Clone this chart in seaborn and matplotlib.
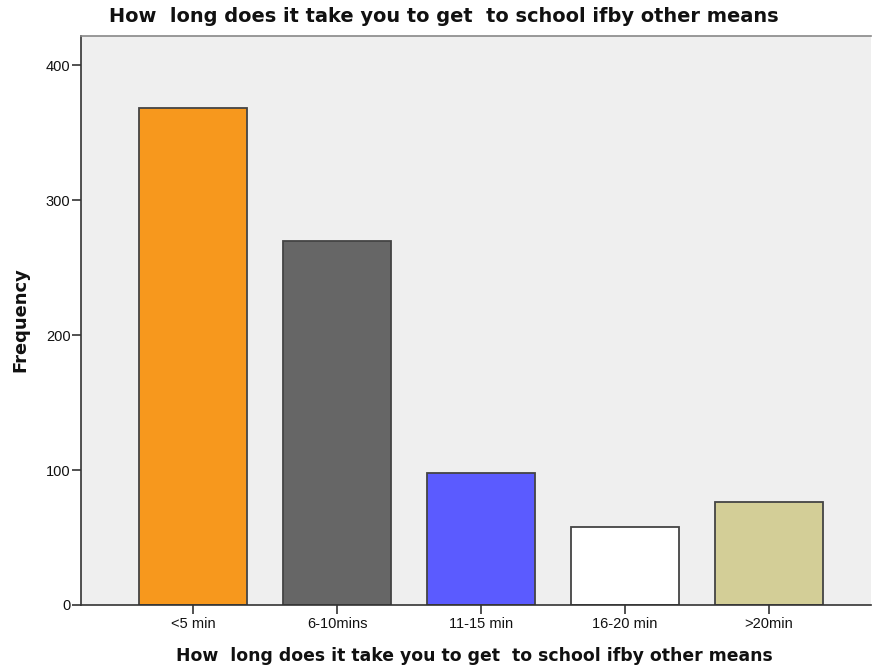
import matplotlib
matplotlib.use("Agg")
import matplotlib.pyplot as plt
import seaborn as sns
import pandas as pd

categories = ["<5 min", "6-10mins", "11-15 min", "16-20 min", ">20min"]
frequency = [368, 270, 98, 58, 76]
bar_colors = ["#F7981D", "#666666", "#5B5BFF", "#FFFFFF", "#D3CE97"]
yticks = [0, 100, 200, 300, 400]
title = "How  long does it take you to get  to school ifby other means"
ylabel = "Frequency"

sns.set_style("white")
plt.rcParams['font.family'] = ['Liberation Sans', 'DejaVu Sans']

df = pd.DataFrame({"cat": categories, "freq": frequency})

W, H = 873, 672
fig = plt.figure(figsize=(W / 100, H / 100), dpi=100)
ax = fig.add_axes([81 / W, 67 / H, 790 / W, 569 / H])
ax.set_facecolor("#EFEFEF")

sns.barplot(data=df, x="cat", y="freq", hue="cat", palette=bar_colors,
            order=categories, hue_order=categories, legend=False,
            width=0.75, edgecolor="#444444", linewidth=1.3, saturation=1, ax=ax)

ax.set_xlim(-0.778, 4.708)
ax.set_ylim(0, 421.5)
ax.set_yticks(yticks)
ax.set_yticklabels([str(v) for v in yticks])
ax.set_xlabel("")
ax.set_ylabel("")

ax.spines["right"].set_visible(False)
ax.spines["top"].set_color("#888888")
ax.spines["top"].set_linewidth(1.2)
for s in ["left", "bottom"]:
    ax.spines[s].set_color("#333333")
    ax.spines[s].set_linewidth(1.2)

ax.tick_params(axis="both", direction="out", length=6.5, width=1.2, color="#333333",
               labelsize=10.5, labelcolor="#111111", left=True, bottom=True)
ax.tick_params(axis="y", pad=1)
ax.tick_params(axis="x", pad=2)

# titles and axis labels placed in figure pixel coordinates
t_title = fig.text(444 / W, 1 - 17 / H, title, ha="center", va="center",
                   fontsize=12, fontweight="bold", family="DejaVu Sans", color="#111111")
t_xlab = fig.text(474 / W, 1 - 656 / H, title, ha="center", va="center",
                  fontsize=11, fontweight="bold", family="DejaVu Sans", color="#111111")
t_ylab = fig.text(20 / W, 1 - 320 / H, ylabel, ha="center", va="center", rotation=90,
                  fontsize=11, fontweight="bold", family="DejaVu Sans", color="#111111")

renderer = fig.canvas.get_renderer()
def fit(t, target, horizontal=True):
    bb = t.get_window_extent(renderer)
    size = bb.width if horizontal else bb.height
    t.set_fontsize(t.get_fontsize() * target / size)

fit(t_title, 668)
fit(t_xlab, 594)
fit(t_ylab, 104, horizontal=False)

fig.savefig("out.png", dpi=100)
